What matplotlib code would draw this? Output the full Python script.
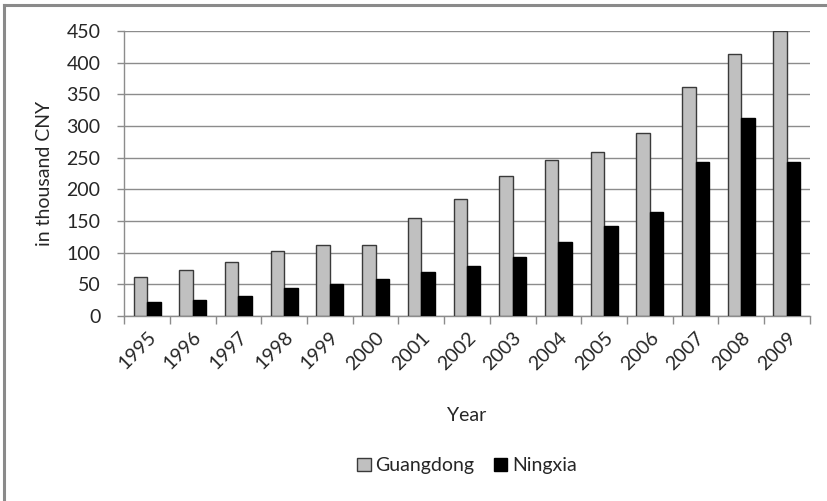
import numpy as np
import matplotlib
matplotlib.use("Agg")
import matplotlib.pyplot as plt
from matplotlib.lines import Line2D

plt.rcParams['font.family'] = ['Lato', 'DejaVu Sans']

years = ['1995', '1996', '1997', '1998', '1999', '2000', '2001', '2002',
         '2003', '2004', '2005', '2006', '2007', '2008', '2009']
guangdong = [61, 73, 85, 103, 113, 113, 155, 185, 221, 247, 259, 289, 361, 414, 450]
ningxia = [22, 26, 31, 44, 50, 58, 70, 79, 93, 117, 143, 164, 243, 313, 243]

grid_col = '#8c8c8c'
txt_col = '#262626'
fs = 14

fig = plt.figure(figsize=(8.28, 5.01), dpi=100)
ax = fig.add_axes([0.150, 0.369, 0.828, 0.569])

x = np.arange(len(years))
w = 0.295
ax.bar(x - w / 2, guangdong, w, color='#c0c0c0', edgecolor='#3a3a3a',
       linewidth=1.0, label='Guangdong', zorder=3)
ax.bar(x + w / 2, ningxia, w, color='black', edgecolor='black',
       linewidth=1.0, label='Ningxia', zorder=3)

ax.set_xlim(-0.5, len(years) - 0.5)
ax.set_ylim(0, 450)
ax.set_yticks(np.arange(0, 451, 50))
ax.yaxis.grid(True, color=grid_col, linewidth=1.0, zorder=0)
ax.set_axisbelow(True)

# category ticks sit between the groups, labels sit under the groups
ax.set_xticks(np.arange(-0.5, len(years)), minor=False)
ax.set_xticklabels([])
ax.set_xticks(x, minor=True)
ax.set_xticklabels(years, minor=True, rotation=45, ha='right',
                   rotation_mode='anchor', fontsize=fs, color=txt_col)
ax.tick_params(axis='x', which='major', length=6, color=grid_col, width=1)
ax.tick_params(axis='x', which='minor', length=0, pad=9)
ax.tick_params(axis='y', length=5, color=grid_col, width=1,
               labelsize=fs, labelcolor=txt_col, pad=12)

for side in ['top', 'right']:
    ax.spines[side].set_visible(False)
for side in ['left', 'bottom']:
    ax.spines[side].set_color(grid_col)
    ax.spines[side].set_linewidth(1.0)

ax.set_ylabel('in thousand CNY', fontsize=fs, color=txt_col, labelpad=10)
ax.set_xlabel('Year', fontsize=fs, color=txt_col, labelpad=25)

ax.legend(loc='center', bbox_to_anchor=(0.5, -0.525), ncol=2,
          frameon=False, fontsize=fs, handlelength=0.7, handleheight=0.7,
          handletextpad=0.25, columnspacing=1.0, labelcolor=txt_col)

# chart frame, left and top edges
fig.add_artist(Line2D([0.005, 0.005], [0.0, 0.99], color='#8a8a8a', lw=2.2,
                      transform=fig.transFigure))
fig.add_artist(Line2D([0.005, 1.0], [0.99, 0.99], color='#8a8a8a', lw=2.2,
                      transform=fig.transFigure))

fig.savefig('out.png', dpi=100)
